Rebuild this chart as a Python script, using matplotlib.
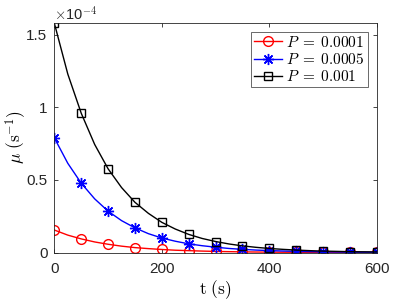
import matplotlib
matplotlib.use("Agg")
import matplotlib.pyplot as plt
import numpy as np

# values, in units of 1e-4 s^-1
# marker positions (every 50 s)
t = [0, 50, 100, 150, 200, 250, 300, 350, 400, 450, 500, 550, 600]
mu_p0001 = [0.155, 0.094, 0.057, 0.034, 0.021, 0.013, 0.0077, 0.0047, 0.0028, 0.0017, 0.001, 0.0006, 0.0004]
mu_p0005 = [0.79, 0.478, 0.285, 0.17, 0.1, 0.06, 0.037, 0.022, 0.0135, 0.0082, 0.005, 0.003, 0.002]
mu_p001 = [1.58, 0.96, 0.577, 0.346, 0.208, 0.125, 0.076, 0.046, 0.028, 0.017, 0.010, 0.006, 0.004]

# curve read at a finer step (every 25 s) for the solid lines
t_line = [0, 25, 50, 75, 100, 125, 150, 175, 200, 225, 250, 275, 300,
          325, 350, 375, 400, 425, 450, 475, 500, 525, 550, 575, 600]
line_p0001 = [0.155, 0.12, 0.094, 0.073, 0.057, 0.044, 0.034, 0.027, 0.021, 0.016, 0.013, 0.01, 0.0077,
              0.006, 0.0047, 0.0036, 0.0028, 0.0022, 0.0017, 0.0013, 0.001, 0.0008, 0.0006, 0.0005, 0.0004]
line_p0005 = [0.79, 0.615, 0.478, 0.37, 0.285, 0.22, 0.17, 0.13, 0.1, 0.078, 0.06, 0.047, 0.037,
              0.028, 0.022, 0.017, 0.0135, 0.0105, 0.0082, 0.0064, 0.005, 0.0039, 0.003, 0.0025, 0.002]
line_p001 = [1.58, 1.23, 0.96, 0.745, 0.577, 0.448, 0.346, 0.27, 0.208, 0.162, 0.125, 0.097, 0.076,
             0.059, 0.046, 0.036, 0.028, 0.022, 0.017, 0.013, 0.010, 0.008, 0.006, 0.005, 0.004]

labels = [r"$P \;=\; 0.0001$", r"$P \;=\; 0.0005$", r"$P \;=\; 0.001$"]
colors = ['red', 'blue', 'black']

plt.rcParams['font.family'] = ['Liberation Sans', 'DejaVu Sans']
plt.rcParams['mathtext.fontset'] = 'cm'

fig = plt.figure(figsize=(4.15, 3.01), dpi=100)
ax = fig.add_axes([0.131, 0.161, 0.777, 0.764])

scale = 1e-4
styles = [dict(marker='o', ms=7, mfc='none'),
          dict(marker=(8, 2, 0), ms=8),
          dict(marker='s', ms=6, mfc='none')]
lines = [line_p0001, line_p0005, line_p001]
marks = [mu_p0001, mu_p0005, mu_p001]
for yl, ym, c, st, lab in zip(lines, marks, colors, styles, labels):
    ax.plot(t_line, np.array(yl) * scale, color=c, lw=1.0)
    ax.plot(t, np.array(ym) * scale, color=c, ls='none', mew=1.0, **st)
    # legend proxy
    ax.plot([], [], color=c, lw=1.0, mew=1.0, label=lab, **st)

ax.set_xlim(0, 600)
ax.set_ylim(0, 1.585e-4)
ax.set_xticks([0, 200, 400, 600])
ax.set_yticks([0, 0.5e-4, 1e-4, 1.5e-4])
ax.set_yticklabels(['0', '0.5', '1', '1.5'])
ax.text(0.0, 1.0, r'$\times$10$^{-4}$', transform=ax.transAxes, fontsize=10.5, color='0.15',
        va='bottom', ha='left')

gray = '0.15'
for s in ax.spines.values():
    s.set_color(gray)
    s.set_linewidth(0.6)
ax.tick_params(direction='in', top=True, right=True, colors=gray, labelsize=11, length=3, width=0.6)
ax.tick_params(axis='x', pad=7)
ax.tick_params(axis='y', pad=5)

ax.set_xlabel(r'$\mathrm{t\ (s)}$', fontsize=12.5)
ax.set_ylabel(r'$\mu\ (\mathrm{s}^{-1})$', fontsize=12.5)
ax.xaxis.set_label_coords(0.5, -0.113)
ax.yaxis.set_label_coords(-0.083, 0.5)

leg = ax.legend(loc='upper right', fontsize=11, frameon=True, fancybox=False, edgecolor='0.15',
                handlelength=1.8, handletextpad=0.3, borderpad=0.2, labelspacing=0.15,
                borderaxespad=0.6)
leg.get_frame().set_linewidth(0.6)

fig.savefig('out.png', dpi=100)
